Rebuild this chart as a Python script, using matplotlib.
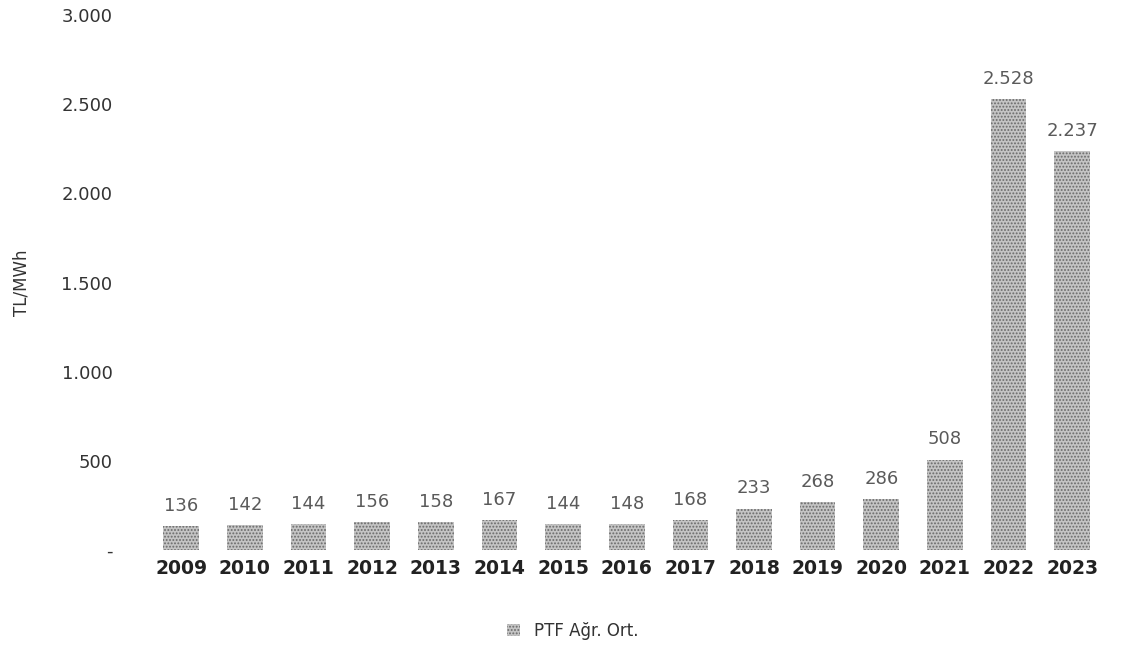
import matplotlib.pyplot as plt
from matplotlib.ticker import FuncFormatter

# Veriler (PTF agirlikli ortalama, TL/MWh)
yillar = ["2009", "2010", "2011", "2012", "2013", "2014", "2015", "2016",
          "2017", "2018", "2019", "2020", "2021", "2022", "2023"]
ptf = [136, 142, 144, 156, 158, 167, 144, 148, 168, 233, 268, 286, 508, 2528, 2237]

plt.rcParams["hatch.linewidth"] = 0.9

fig = plt.figure(figsize=(11.23, 6.45), dpi=100)
ax = fig.add_axes([0.1273, 0.147, 0.8615, 0.83])

x = range(len(yillar))
bars = ax.bar(x, ptf, width=0.56, color="#c4c4c4", hatch=".....",
              edgecolor="#6a6a6a", linewidth=0, label="PTF Ağr. Ort.")

def nokta(v):
    return f"{int(v):,}".replace(",", ".")

for xi, v in zip(x, ptf):
    ax.annotate(nokta(v), (xi, v), xytext=(0, 8), textcoords="offset points",
                ha="center", va="bottom", fontsize=13, color="#5a5a5a")

ax.set_ylim(0, 3000)
ax.set_xlim(-0.6, len(yillar) - 0.4)
ax.set_yticks([0, 500, 1000, 1500, 2000, 2500, 3000])
ax.yaxis.set_major_formatter(FuncFormatter(lambda v, p: "-" if v == 0 else nokta(v)))
ax.set_xticks(list(x))
ax.set_xticklabels(yillar, fontsize=13.5, fontweight="bold", color="#222222")
ax.tick_params(axis="y", labelsize=13, labelcolor="#333333", length=0, pad=22)
ax.tick_params(axis="x", length=0, pad=6)
for s in ax.spines.values():
    s.set_visible(False)

ax.set_ylabel("TL/MWh", fontsize=12, color="#333333", labelpad=22)

leg = fig.legend(loc="lower center", bbox_to_anchor=(0.51, -0.015), frameon=False,
                 fontsize=12, handlelength=0.8, handleheight=0.8)
for t in leg.get_texts():
    t.set_color("#333333")

fig.savefig("out.png", dpi=100)
